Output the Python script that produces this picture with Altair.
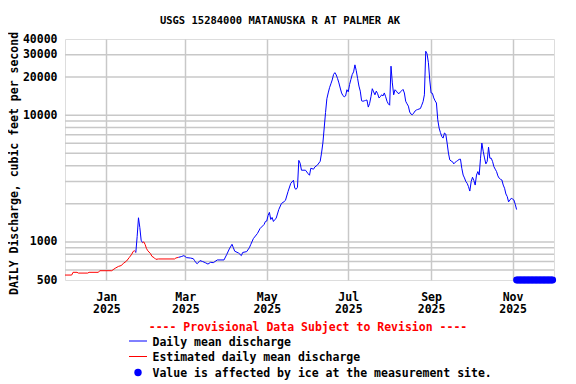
import altair as alt
import pandas as pd

# ---------------- data ----------------
est1_dates = ["2024-12-01", "2024-12-06", "2024-12-07", "2024-12-10", "2024-12-11", "2024-12-18",
              "2024-12-19", "2024-12-26", "2024-12-27", "2025-01-05", "2025-01-06", "2025-01-08",
              "2025-01-10", "2025-01-12", "2025-01-14", "2025-01-16", "2025-01-18", "2025-01-20",
              "2025-01-21", "2025-01-22", "2025-01-23"]
est1_values = [547, 547, 575, 575, 567, 567, 575, 575, 592, 592, 603, 623,
               640, 650, 680, 705, 750, 800, 840, 850, 830]

obs1_dates = ["2025-01-23", "2025-01-24", "2025-01-25", "2025-01-26", "2025-01-27", "2025-01-28"]
obs1_values = [822, 1100, 1550, 1300, 1030, 985]

est2_dates = ["2025-01-28", "2025-01-29", "2025-01-30", "2025-01-31", "2025-02-01", "2025-02-03",
              "2025-02-04", "2025-02-06", "2025-02-07", "2025-02-09", "2025-02-21", "2025-02-22",
              "2025-02-24"]
est2_values = [985, 1000, 952, 885, 850, 808, 770, 746, 728, 733, 733, 746, 755]

obs2_dates = [
    "2025-02-24", "2025-02-26", "2025-02-28", "2025-03-02", "2025-03-05", "2025-03-07", "2025-03-08",
    "2025-03-09", "2025-03-10", "2025-03-12", "2025-03-14", "2025-03-16", "2025-03-18", "2025-03-20",
    "2025-03-22", "2025-03-25", "2025-03-30",
    "2025-04-01", "2025-04-03", "2025-04-05", "2025-04-06", "2025-04-07", "2025-04-10", "2025-04-12",
    "2025-04-13", "2025-04-16", "2025-04-18", "2025-04-19", "2025-04-21", "2025-04-24", "2025-04-26",
    "2025-04-29", "2025-04-30",
    "2025-05-01", "2025-05-02", "2025-05-03", "2025-05-04", "2025-05-05", "2025-05-06", "2025-05-07",
    "2025-05-08", "2025-05-10", "2025-05-12", "2025-05-14", "2025-05-15", "2025-05-17", "2025-05-19",
    "2025-05-21", "2025-05-22", "2025-05-23", "2025-05-24", "2025-05-25", "2025-05-26", "2025-05-27",
    "2025-05-30",
    "2025-06-01", "2025-06-02", "2025-06-03", "2025-06-05", "2025-06-06", "2025-06-08", "2025-06-10",
    "2025-06-11", "2025-06-12", "2025-06-13", "2025-06-14", "2025-06-15", "2025-06-16", "2025-06-17",
    "2025-06-18", "2025-06-19", "2025-06-20", "2025-06-21", "2025-06-22", "2025-06-23", "2025-06-24",
    "2025-06-25", "2025-06-26", "2025-06-27", "2025-06-28", "2025-06-29", "2025-06-30",
    "2025-07-01", "2025-07-02", "2025-07-03", "2025-07-04", "2025-07-05", "2025-07-06", "2025-07-07",
    "2025-07-08", "2025-07-09", "2025-07-10", "2025-07-11", "2025-07-12", "2025-07-13", "2025-07-14",
    "2025-07-15", "2025-07-16", "2025-07-17", "2025-07-18", "2025-07-19", "2025-07-20", "2025-07-21",
    "2025-07-22", "2025-07-23", "2025-07-24", "2025-07-25", "2025-07-26", "2025-07-27", "2025-07-28",
    "2025-07-29", "2025-07-30", "2025-07-31",
    "2025-08-01", "2025-08-02", "2025-08-03", "2025-08-04", "2025-08-05", "2025-08-06", "2025-08-07",
    "2025-08-08", "2025-08-09", "2025-08-10", "2025-08-11", "2025-08-12", "2025-08-13", "2025-08-14",
    "2025-08-15", "2025-08-16", "2025-08-17", "2025-08-18", "2025-08-19", "2025-08-20", "2025-08-21",
    "2025-08-22", "2025-08-23", "2025-08-24", "2025-08-25", "2025-08-26", "2025-08-27", "2025-08-28",
    "2025-08-29", "2025-08-30", "2025-08-31",
    "2025-09-01", "2025-09-02", "2025-09-03", "2025-09-04", "2025-09-05", "2025-09-06", "2025-09-07",
    "2025-09-08", "2025-09-09", "2025-09-10", "2025-09-11", "2025-09-12", "2025-09-13", "2025-09-14",
    "2025-09-15", "2025-09-16", "2025-09-17", "2025-09-18", "2025-09-19", "2025-09-20", "2025-09-21",
    "2025-09-22", "2025-09-23", "2025-09-24", "2025-09-25", "2025-09-26", "2025-09-27", "2025-09-28",
    "2025-09-29", "2025-09-30",
    "2025-10-01", "2025-10-02", "2025-10-03", "2025-10-04", "2025-10-05", "2025-10-06", "2025-10-07",
    "2025-10-08", "2025-10-09", "2025-10-10", "2025-10-11", "2025-10-12", "2025-10-13", "2025-10-14",
    "2025-10-15", "2025-10-16", "2025-10-17", "2025-10-18", "2025-10-19", "2025-10-20", "2025-10-21",
    "2025-10-22", "2025-10-23", "2025-10-24", "2025-10-25", "2025-10-26", "2025-10-27", "2025-10-28",
    "2025-10-29", "2025-10-30", "2025-10-31",
    "2025-11-01", "2025-11-02", "2025-11-03", "2025-11-04"]
obs2_values = [
    755, 765, 779, 751, 745, 737, 711,
    685, 673, 711, 700, 685, 668, 690,
    685, 720, 720,
    793, 880, 957, 900, 845, 815, 779,
    825, 838, 900, 952, 1062, 1164, 1275,
    1372, 1449,
    1460, 1617, 1710, 1503, 1560, 1449, 1500,
    1531, 1800, 2010, 2080, 2127, 2507, 2902,
    3065, 2649, 2600, 2700, 4400, 4180, 3681,
    3681,
    3450, 3359, 3817, 3750, 3900, 4050, 4330,
    5020, 6030, 7930, 10500, 13500, 15000, 16500,
    17700, 19000, 21000, 21700, 20800, 19500, 18000,
    16400, 15000, 14300, 14000, 14200, 15900,
    15300, 17500, 19200, 21000, 22000, 25000, 22500,
    19500, 17000, 15500, 13000, 12900, 13000, 13100,
    13200, 11600, 12400, 14000, 16200, 15300, 14500,
    15500, 14800, 13700, 14000, 14500, 14200, 15000,
    14000, 12900, 12300,
    12000, 24400, 18000, 14500, 15900, 15500, 15000,
    14800, 15300, 15600, 16000, 15000, 12900, 12300,
    11800, 10600, 10200, 10100, 10400, 10800, 11000,
    11100, 11200, 11300, 12000, 12800, 14500, 32000,
    30500, 26000, 19000,
    15000, 14900, 13700, 13000, 12500, 9200, 7930,
    7300, 6800, 6600, 7240, 7100, 6030, 5020,
    4440, 4350, 4300, 4130, 4250, 4320, 4400,
    4480, 4500, 3810, 3370, 3200, 3000, 2900,
    2730, 2520,
    2990, 3240, 3050, 2810, 3370, 3590, 3370,
    4580, 6030, 5200, 4600, 4130, 4320, 5600,
    4580, 4580, 4320, 3930, 3750, 3590, 3320,
    3180, 3120, 3080, 2810, 2650, 2390, 2280,
    2070, 2140, 2210,
    2180, 2140, 1980, 1800]

ice_dates = ["2025-11-04", "2025-11-05", "2025-11-06", "2025-11-07", "2025-11-08", "2025-11-09",
             "2025-11-10", "2025-11-11", "2025-11-12", "2025-11-13", "2025-11-14", "2025-11-15",
             "2025-11-16", "2025-11-17", "2025-11-18", "2025-11-19", "2025-11-20", "2025-11-21",
             "2025-11-22", "2025-11-23", "2025-11-24", "2025-11-25", "2025-11-26", "2025-11-27",
             "2025-11-28", "2025-11-29", "2025-11-30", "2025-12-01"]
ice_marker_value = 500

y_label_values = [500, 1000, 10000, 20000, 30000, 40000]
y_grid_values = [600, 700, 800, 900, 1000, 2000, 3000, 4000, 5000, 6000, 7000, 8000, 9000,
                 10000, 20000, 30000]
x_tick_months = [(2025, 1), (2025, 3), (2025, 5), (2025, 7), (2025, 9), (2025, 11)]

title_text = "USGS 15284000 MATANUSKA R AT PALMER AK"
y_title = "DAILY Discharge, cubic feet per second"
provisional_text = "---- Provisional Data Subject to Revision ----"
legend_labels = ["Daily mean discharge", "Estimated daily mean discharge",
                 "Value is affected by ice at the measurement site."]

# ---------------- build tables ----------------
segments = [("Estimated", est1_dates, est1_values),
            ("Daily", obs1_dates, obs1_values),
            ("Estimated", est2_dates, est2_values),
            ("Daily", obs2_dates, obs2_values)]
rows = []
for i, (kind, ds, vs) in enumerate(segments):
    for d, v in zip(ds, vs):
        rows.append({"date": d, "value": v, "kind": kind, "seg": i})
df = pd.DataFrame(rows)
ice_df = pd.DataFrame({"date": ice_dates, "value": [ice_marker_value] * len(ice_dates)})
grid_df = pd.DataFrame({"value": y_grid_values})

FONT = "DejaVu Sans Mono"
GRID = "#c8c8c8"
W, H = 489, 241

xscale = alt.Scale(type="utc",
                   domain=[alt.DateTime(year=2024, month=12, date=1, utc=True),
                           alt.DateTime(year=2025, month=12, date=2, utc=True)])
yscale = alt.Scale(type="log", domain=[500, 40000], nice=False)

x_axis = alt.Axis(
    values=[alt.DateTime(year=y, month=m, date=1, utc=True) for y, m in x_tick_months],
    labelExpr="[utcFormat(datum.value, '%b'), utcFormat(datum.value, '%Y')]",
    grid=True, gridColor=GRID, gridWidth=1.5, ticks=False, tickSize=0, domain=False,
    labelFont=FONT, labelFontWeight="bold", labelFontSize=11.5, labelColor="black",
    labelBaseline="top", labelLineHeight=12.5, labelPadding=11, labelAlign="center",
    labelOverlap=False, title=None,
)
y_axis = alt.Axis(
    values=y_label_values, format="d", grid=False, ticks=False, tickSize=0, domain=False,
    labelFont=FONT, labelFontWeight="bold", labelFontSize=11.5, labelColor="black",
    labelPadding=8, labelBaseline="middle", labelOverlap=False,
    title=y_title, titleFont=FONT, titleFontWeight="bold", titleFontSize=11.5,
    titleColor="black", titleX=-50.5, titleY=124, titleAngle=-90, titleAlign="center",
    titleBaseline="middle",
)

X = alt.X("date:T", scale=xscale, axis=x_axis)
Y = alt.Y("value:Q", scale=yscale, axis=y_axis)

grid = alt.Chart(grid_df).mark_rule(color=GRID, strokeWidth=1.5).encode(y=Y)

lines = alt.Chart(df).mark_line(strokeWidth=1).encode(
    x=X, y=Y,
    color=alt.Color("kind:N", scale=alt.Scale(domain=["Daily", "Estimated"],
                                              range=["#0000ff", "#ff0000"]), legend=None),
    detail="seg:N",
)

ice = alt.Chart(ice_df).mark_point(filled=True, shape="circle", size=48, opacity=1,
                                   color="#0000ff").encode(x=X, y=Y)

one = pd.DataFrame({"k": [0]})
title_mark = alt.Chart(one).mark_text(font=FONT, fontWeight="bold", fontSize=10.5,
                                      color="black", align="center", baseline="middle").encode(
    x=alt.value(215), y=alt.value(-18), text=alt.value(title_text))

prov = alt.Chart(one).mark_text(font=FONT, fontWeight="bold", fontSize=11.5,
                                color="#ff0000", align="center", baseline="middle").encode(
    x=alt.value(243), y=alt.value(289), text=alt.value(provisional_text))

leg_text = []
for lab, yy in zip(legend_labels, [303.5, 319, 334.5]):
    leg_text.append(alt.Chart(one).mark_text(font=FONT, fontWeight="bold", fontSize=11.5,
                                             color="black", align="left",
                                             baseline="middle").encode(
        x=alt.value(87.5), y=alt.value(yy), text=alt.value(lab)))

leg_blue = alt.Chart(one).mark_rule(color="#0000ff", strokeWidth=1).encode(
    x=alt.value(64), x2=alt.value(82), y=alt.value(302))
leg_red = alt.Chart(one).mark_rule(color="#ff0000", strokeWidth=1).encode(
    x=alt.value(64), x2=alt.value(82), y=alt.value(317.5))
leg_dot = alt.Chart(one).mark_point(filled=True, shape="circle", size=55, opacity=1,
                                    color="#0000ff").encode(
    x=alt.value(73), y=alt.value(333.5))

chart = alt.layer(
    grid, lines, ice, title_mark, prov, *leg_text, leg_blue, leg_red, leg_dot
).properties(
    width=W, height=H,
    autosize=alt.AutoSizeParams(type="none"),
    padding={"left": 57, "top": 31, "right": 14, "bottom": 103},
).configure_view(
    stroke="black", strokeWidth=1
).configure(background="white")

chart.save("out.html", embed_options={"renderer": "svg", "actions": False})
